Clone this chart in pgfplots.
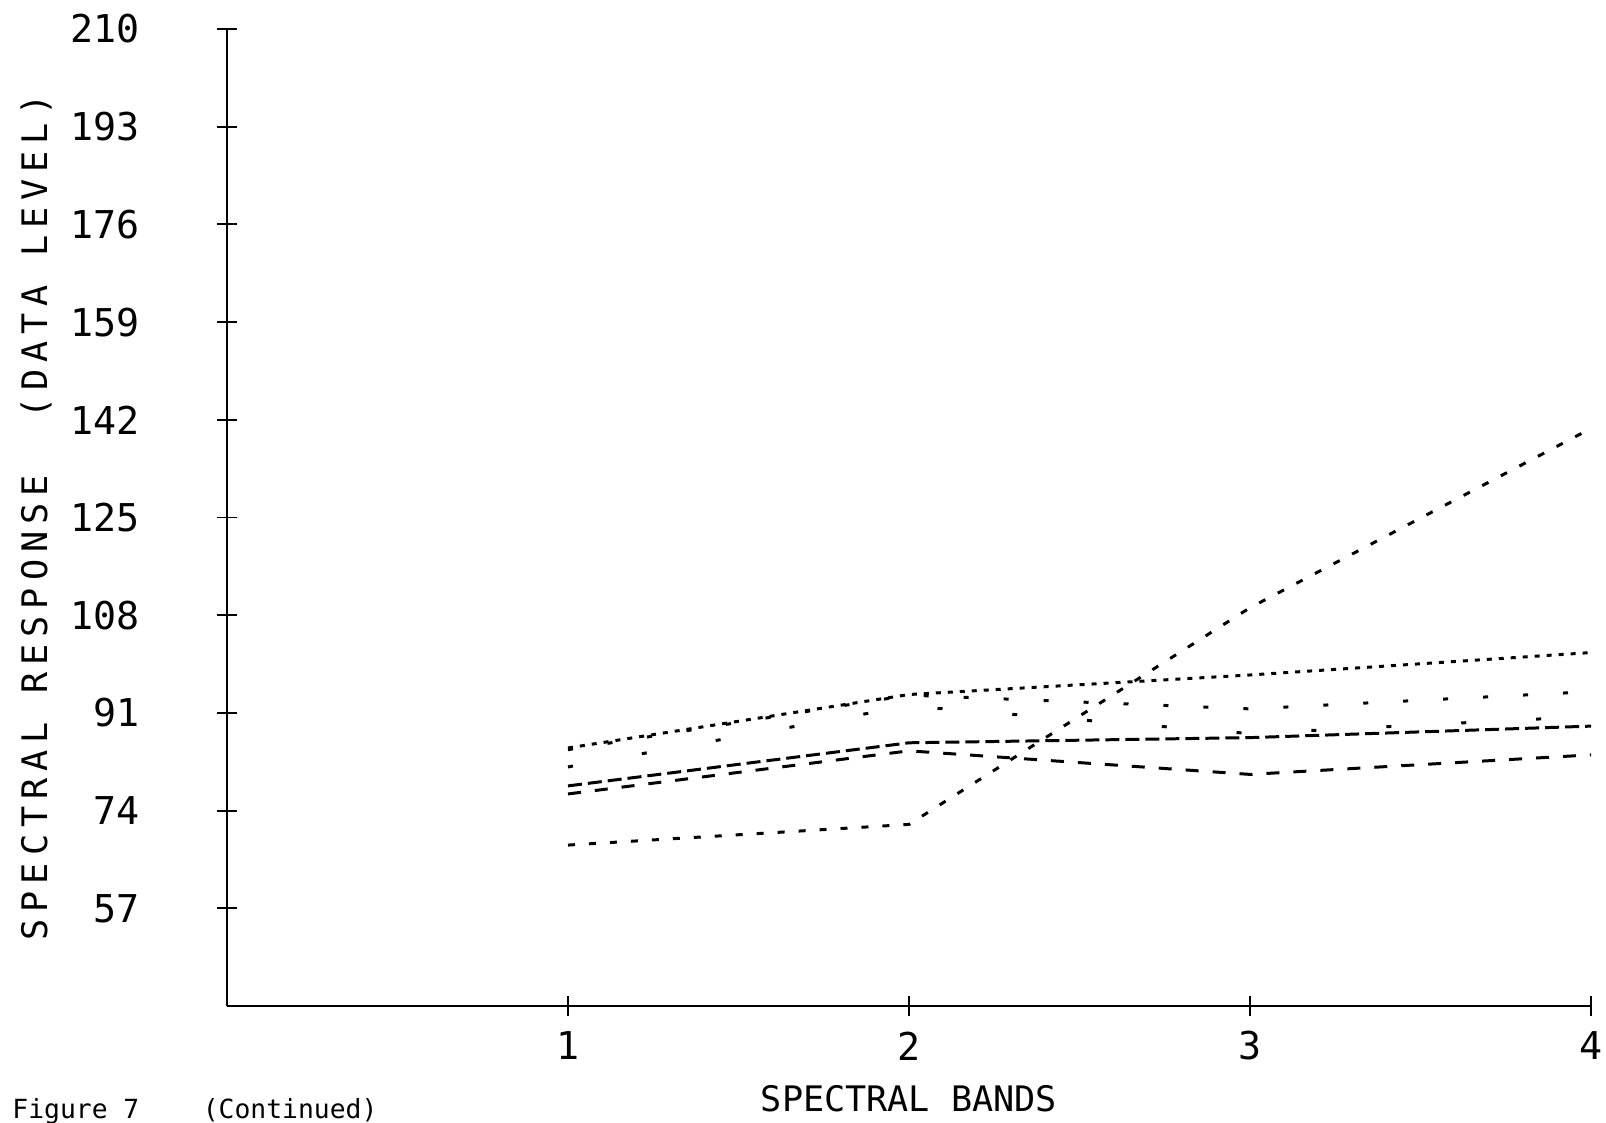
\documentclass[border=0pt]{standalone}
\usepackage{fontspec}
\setmainfont{DejaVu Sans Mono}
\newfontfamily\spacedmono[LetterSpace=20]{DejaVu Sans Mono}
\usepackage{pgfplots}
\usepackage{pgfplotstable}
\pgfplotsset{compat=1.18}

% band means
\pgfplotstableread{
band a b c d e f
1 68.0 84.9 84.6 81.6 78.3 76.9
2 71.6 94.2 94.1 92.2 85.8 84.4
3 109.3 97.6 91.7 87.4 86.7 80.3
4 140.5 101.5 94.7 90.4 88.7 83.7
}\bands

\begin{document}
\begin{tikzpicture}[x=1mm,y=1mm]
\path[use as bounding box] (0,0) rectangle (160.6,112.2);
\begin{axis}[
  at={(22.7mm,11.6mm)}, anchor=south west,
  scale only axis, width=136.4mm, height=97.7mm,
  xmin=0, xmax=4, ymin=40, ymax=210,
  enlargelimits=false,
  axis x line=bottom, axis y line=left,
  axis line style={-, line width=0.55pt},
  xtick={1,2,3,4}, ytick={57,74,91,108,125,142,159,176,193,210},
  tick align=center, major tick length=2mm,
  tick style={line width=0.55pt, black},
  /pgf/number format/assume math mode=true,
  tick label style={font=\fontsize{10.9}{13}\selectfont},
  yticklabel style={anchor=east, xshift=-6.5mm},
  xticklabel style={anchor=center, yshift=-3.0mm},
  xlabel={SPECTRAL BANDS},
  ylabel={\spacedmono SPECTRAL RESPONSE~~(DATA LEVEL)},
  label style={font=\fontsize{10.9}{13}\selectfont},
  every axis x label/.style={at={(axis description cs:0.5,0)}, anchor=center, yshift=-9.3mm},
  every axis y label/.style={at={([xshift=-19.1mm]axis description cs:0,0.5)}, anchor=center, rotate=90},
  every axis plot/.append style={line width=0.85pt, black},
]
\addplot[dash pattern=on 0.7mm off 1.4mm] table[x=band,y=a] {\bands};
\addplot[dash pattern=on 0.5mm off 0.7mm] table[x=band,y=b] {\bands};
\addplot[dash pattern=on 0.5mm off 3.5mm] table[x=band,y=c] {\bands};
\addplot[dash pattern=on 0.5mm off 7mm] table[x=band,y=d] {\bands};
\addplot[dash pattern=on 1.4mm off 0.6mm] table[x=band,y=e] {\bands};
\addplot[dash pattern=on 1.3mm off 1.4mm] table[x=band,y=f] {\bands};
\end{axis}
\node[anchor=base west, font=\fontsize{7.5}{9}\selectfont] at (0,0.4) {Figure~7~~~~(Continued)};
\end{tikzpicture}
\end{document}
